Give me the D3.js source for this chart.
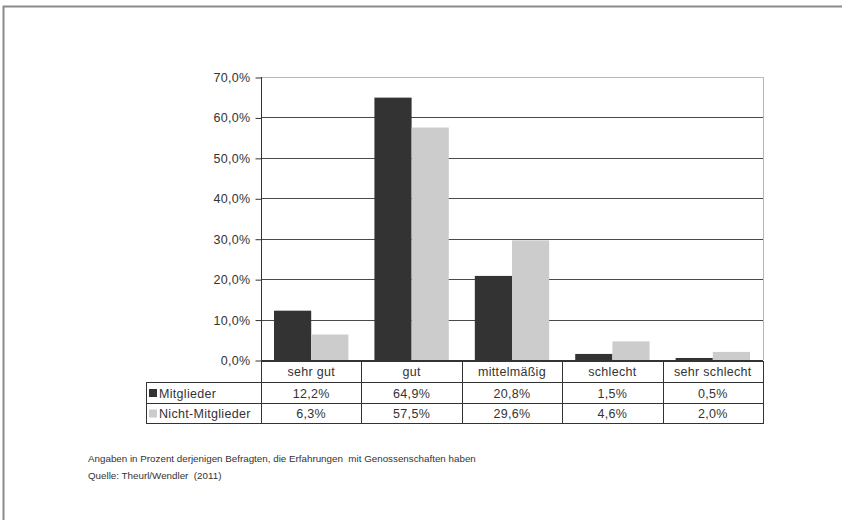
<!DOCTYPE html>
<html>
<head>
<meta charset="utf-8">
<script src="https://cdn.jsdelivr.net/npm/d3@7"></script>
<style>
  html, body { margin: 0; padding: 0; background: #fff; }
  svg { display: block; font-family: "Liberation Sans", Arial, sans-serif; }
  .note { white-space: pre; }
</style>
</head>
<body>
<svg id="chart" width="842" height="520"></svg>
<script>
// Bewertung der Erfahrungen mit Genossenschaften
const categories = ["sehr gut", "gut", "mittelmäßig", "schlecht", "sehr schlecht"];
const seriesNames = ["Mitglieder", "Nicht-Mitglieder"];
const mitglieder = [12.2, 64.9, 20.8, 1.5, 0.5];
const nichtMitglieder = [6.3, 57.5, 29.6, 4.6, 2.0];
const yTicks = [0, 10, 20, 30, 40, 50, 60, 70];
const footnotes = [
  "Angaben in Prozent derjenigen Befragten, die Erfahrungen  mit Genossenschaften haben",
  "Quelle: Theurl/Wendler  (2011)"
];

const colors = ["#333333", "#cccccc"];
const seriesValues = [mitglieder, nichtMitglieder];
const fmt = v => v.toFixed(1).replace(".", ",") + "%";

const svg = d3.select("#chart");

// Outer frame (top and left edges visible)
svg.append("path")
  .attr("d", "M3.5,520 V6.5 H842")
  .attr("fill", "none")
  .attr("stroke", "#8a8a8a")
  .attr("stroke-width", 2);

const plot = { left: 261, right: 763, top: 77, bottom: 360 };

const x = d3.scaleBand().domain(categories).range([plot.left, plot.right]).paddingInner(0).paddingOuter(0);
const x1 = d3.scaleBand().domain(seriesNames).range([0, x.bandwidth()]).paddingOuter(0.35).paddingInner(0);
const y = d3.scaleLinear().domain([0, 70]).range([plot.bottom, plot.top]);

// Gridlines
svg.append("g").selectAll("line").data(yTicks.filter(t => t > 0)).join("line")
  .attr("x1", plot.left).attr("x2", plot.right)
  .attr("y1", d => Math.round(y(d)) + 0.5).attr("y2", d => Math.round(y(d)) + 0.5)
  .attr("stroke", d => d === 70 ? "#b8b8b8" : "#4a4a4a")
  .attr("stroke-width", 1);

// Plot area right border
svg.append("line")
  .attr("x1", plot.right + 0.5).attr("x2", plot.right + 0.5)
  .attr("y1", plot.top).attr("y2", plot.bottom)
  .attr("stroke", "#b8b8b8");

// Bars
const groups = svg.append("g").selectAll("g").data(categories).join("g")
  .attr("transform", d => `translate(${x(d)},0)`);
groups.selectAll("rect")
  .data((d, i) => seriesNames.map((s, j) => ({ s, v: seriesValues[j][i], j })))
  .join("rect")
  .attr("x", d => x1(d.s))
  .attr("width", x1.bandwidth())
  .attr("y", d => y(d.v))
  .attr("height", d => y(0) - y(d.v))
  .attr("fill", d => colors[d.j]);

// Y axis
const yAxis = d3.axisLeft(y).tickValues(yTicks).tickSize(6).tickPadding(5).tickFormat(fmt);
const gy = svg.append("g").attr("transform", `translate(${plot.left + 0.5},0.5)`).call(yAxis);
gy.select(".domain").attr("stroke", "#333").attr("d", `M0,${plot.top - 0.5}V${plot.bottom}`);
gy.selectAll(".tick line").attr("stroke", "#333");
gy.selectAll(".tick text").attr("fill", "#333").attr("font-size", 12.5)
  .attr("font-family", "'Liberation Sans', Arial, sans-serif").attr("letter-spacing", 0.3);

// Baseline
svg.append("line")
  .attr("x1", plot.left).attr("x2", plot.right)
  .attr("y1", plot.bottom + 0.5).attr("y2", plot.bottom + 0.5)
  .attr("stroke", "#333");

// Data table below the plot
const rowY = [361, 382, 403, 423];
const tableLeft = 146;
const tbl = svg.append("g").attr("stroke", "#333").attr("fill", "none");
// horizontal lines
tbl.append("line").attr("x1", plot.left).attr("x2", plot.right + 1).attr("y1", rowY[0] + 0.5).attr("y2", rowY[0] + 0.5);
[1, 2, 3].forEach(i => {
  tbl.append("line").attr("x1", tableLeft).attr("x2", plot.right + 1)
    .attr("y1", rowY[i] + 0.5).attr("y2", rowY[i] + 0.5);
});
// vertical lines
const colEdges = categories.map(c => x(c)).concat([plot.right]);
colEdges.forEach(cx => {
  tbl.append("line").attr("x1", Math.round(cx) + 0.5).attr("x2", Math.round(cx) + 0.5)
    .attr("y1", rowY[0]).attr("y2", rowY[3] + 1);
});
tbl.append("line").attr("x1", tableLeft + 0.5).attr("x2", tableLeft + 0.5)
  .attr("y1", rowY[1]).attr("y2", rowY[3] + 1);

const textStyle = sel => sel.attr("font-size", 12.5).attr("fill", "#333").attr("letter-spacing", 0.3);

// Category header
svg.append("g").selectAll("text").data(categories).join("text")
  .attr("x", d => x(d) + x.bandwidth() / 2)
  .attr("y", (rowY[0] + rowY[1]) / 2 + 4.5)
  .attr("text-anchor", "middle")
  .text(d => d)
  .call(textStyle);

// Value rows with legend keys
seriesNames.forEach((name, j) => {
  const top = rowY[j + 1], bottom = rowY[j + 2];
  const mid = (top + bottom) / 2;
  svg.append("rect")
    .attr("x", tableLeft + 3).attr("y", mid - 3.5)
    .attr("width", 8).attr("height", 8)
    .attr("fill", colors[j]);
  svg.append("text")
    .attr("x", tableLeft + 13).attr("y", mid + 5)
    .text(name).call(textStyle);
  svg.append("g").selectAll("text").data(seriesValues[j]).join("text")
    .attr("x", (d, i) => x(categories[i]) + x.bandwidth() / 2)
    .attr("y", mid + 5)
    .attr("text-anchor", "middle")
    .text(d => fmt(d))
    .call(textStyle);
});

// Footnotes
svg.append("g").selectAll("text").data(footnotes).join("text")
  .attr("class", "note")
  .attr("x", 88)
  .attr("y", (d, i) => 462 + i * 17)
  .attr("font-size", 9.8)
  .attr("fill", "#333")
  .text(d => d);
</script>
</body>
</html>
